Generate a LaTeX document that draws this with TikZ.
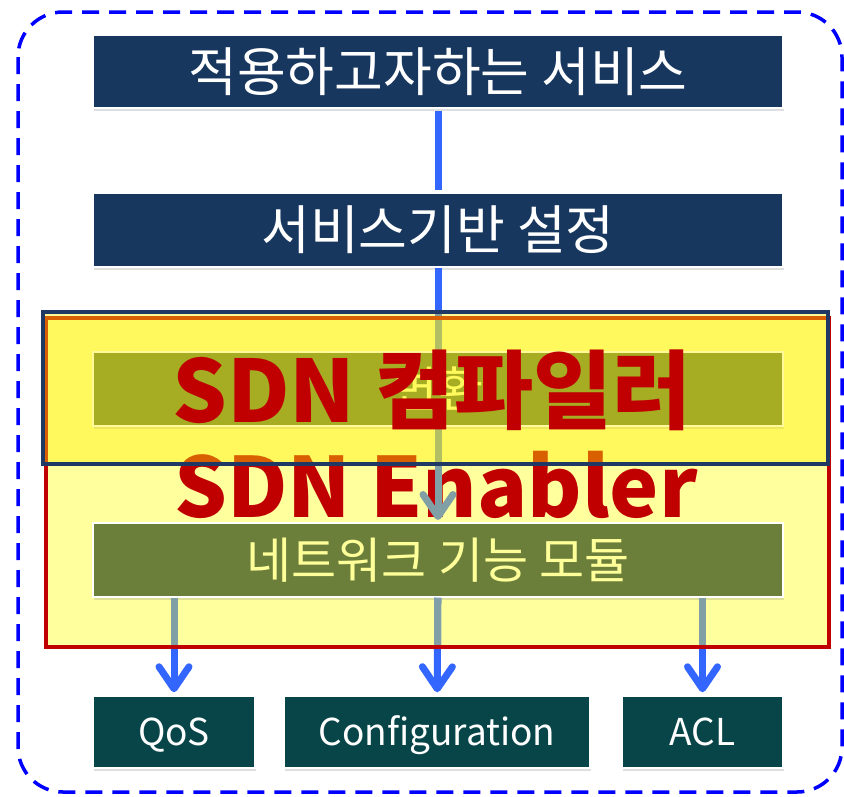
\documentclass[tikz,border=0pt]{standalone}
\usepackage{fontspec}
\setmainfont{Noto Sans CJK KR}
\usetikzlibrary{arrows.meta,shadows}
\definecolor{navy}{HTML}{17375E}
\definecolor{compnavy}{HTML}{1F3864}
\definecolor{teal}{HTML}{084548}
\definecolor{olive}{HTML}{6B7F3A}
\definecolor{paleyellow}{HTML}{FFFF99}
\definecolor{lightyellow}{HTML}{FFFF9E}
\definecolor{darkred}{HTML}{C00000}
\definecolor{lineblue}{HTML}{3366FF}
\definecolor{linegrey}{HTML}{80A0A6}
\definecolor{frameblue}{HTML}{0000FF}
\tikzset{
  box/.style={draw=white, line width=1.5pt, inner sep=0pt,
    drop shadow={opacity=0.25, shadow xshift=1pt, shadow yshift=-2.5pt}},
  navybox/.style={box, fill=navy, text=white, minimum width=690pt,
    font=\fontsize{53}{53}\selectfont},
  olivebox/.style={box, fill=olive, text=paleyellow, minimum width=690pt,
    minimum height=74pt, font=\fontsize{49}{49}\selectfont},
  tealbox/.style={box, fill=teal, text=white, minimum height=72pt,
    text height=27pt, text depth=0pt,
    font=\fontsize{37}{37}\selectfont},
  redtitle/.style={text=darkred, inner sep=0pt, anchor=base,
    font=\fontsize{86}{86}\selectfont\bfseries},
  link/.style={line width=7pt, draw=lineblue},
  flow/.style={link, -{Straight Barb[length=22pt, width=30pt, round]}},
  flowgrey/.style={flow, draw=linegrey},
}
\begin{document}
\begin{tikzpicture}[x=1pt, y=-1pt]
\useasboundingbox (0,0) rectangle (844,796);
% outer dashed frame
\draw[frameblue, line width=3.5pt, dash pattern=on 17pt off 10pt, rounded corners=45pt]
  (18,12) rectangle (842,792);

% upper boxes
\node[navybox, minimum height=73pt] (app) at (438,71.5) {적용하고자하는 서비스};
\node[navybox, minimum height=74pt] (svc) at (438,230) {서비스기반 설정};

% connectors drawn under the enabler area
\draw[link, shorten <=2pt, shorten >=2pt] (app) -- (svc);
\coordinate (netTop) at (438,523);
\draw[flow, shorten >=3pt] (svc) -- (netTop);

% bottom boxes
\node[tealbox, minimum width=162pt] (qos) at (174,732) {QoS};
\node[tealbox, minimum width=306pt] (conf) at (437,732) {Configuration};
\node[tealbox, minimum width=161pt] (acl) at (702.5,732) {ACL};

% SDN Enabler box
\node[fill=lightyellow, inner sep=0pt, minimum width=783pt, minimum height=329pt]
  (enab) at (437.5,482.5) {};
\node[redtitle, font=\fontsize{83}{83}\selectfont\bfseries] (enabT) at (436,517) {SDN Enabler};

% network module box
\node[olivebox] (net) at (438,560) {네트워크 기능 모듈};

% arrows to the bottom boxes (blue outside, grey inside enabler)
\draw[flow, shorten >=3pt] (net.south -| qos) -- (qos);
\draw[flow, shorten >=3pt] (net) -- (conf);
\draw[flow, shorten >=3pt] (net.south -| acl) -- (acl);
\begin{scope}
  \clip (enab.north west) rectangle (enab.south east);
  \draw[flowgrey, shorten >=3pt] (svc) -- (netTop);
  \draw[flowgrey, shorten >=3pt] (net.south -| qos) -- (qos);
  \draw[flowgrey, shorten >=3pt] (net) -- (conf);
  \draw[flowgrey, shorten >=3pt] (net.south -| acl) -- (acl);
\end{scope}
\draw[darkred, line width=4pt] (enab.north west) rectangle (enab.south east);

% compiler box
\node[olivebox] (conv) at (438,389) {변환};
\node[fill=yellow, fill opacity=0.4, draw=compnavy, draw opacity=1, line width=4pt,
  inner sep=0pt, minimum width=785pt, minimum height=152pt] (comp) at (435.5,388) {};
\node[redtitle] (compT) at (432,422) {SDN 컴파일러};
\end{tikzpicture}
\end{document}
